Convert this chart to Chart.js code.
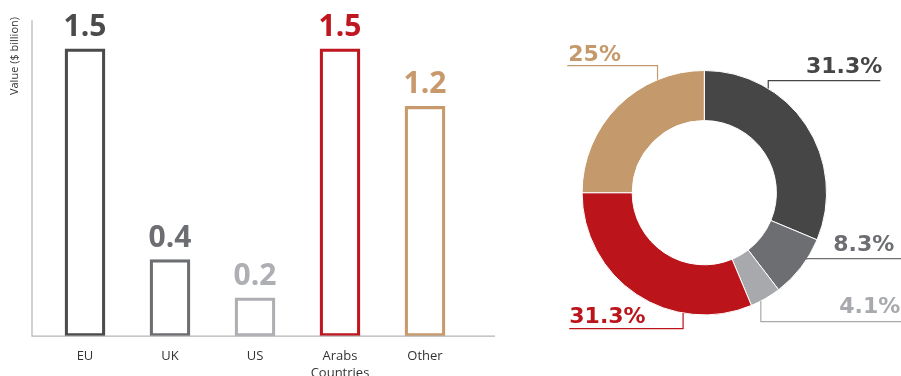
<!DOCTYPE html>
<html lang="en">
<head>
    <meta charset="UTF-8">
    <title>Value by region</title>
    <script src="https://cdn.jsdelivr.net/npm/chart.js"></script>
    <style>
        html, body { margin: 0; padding: 0; background: #fff; overflow: hidden; }
        body { width: 901px; height: 376px; position: relative; }
        #barChart { position: absolute; left: 0; top: 0; }
        #donutChart { position: absolute; left: 540px; top: 0; }
    </style>
</head>
<body>
    <canvas id="barChart" width="500" height="386"></canvas>
    <canvas id="donutChart" width="361" height="376"></canvas>

    <script>
        // Data
        const categories = ['EU', 'UK', 'US', ['Arabs', 'Countries'], 'Other'];
        const values = [1.5, 0.4, 0.2, 1.5, 1.2];
        const shares = [31.3, 8.3, 4.1, 31.3, 25];
        const shareLabels = ['31.3%', '8.3%', '4.1%', '31.3%', '25%'];
        const axisTitle = 'Value ($ billion)';

        // Colours
        const barColors = ['#4b4b4b', '#6d6e71', '#aeafb2', '#c0161f', '#c89a6b'];
        const sliceColors = ['#464646', '#6d6e71', '#a7a9ac', '#bb141b', '#c4996b'];

        // Leader line layout for the donut labels (px relative to centre)
        const leaders = [
            { frac: 0.28, lineDy: -112, endDx: 176, textDx: 178, align: 'right', lift: 8 },
            { frac: 0.35, lineDy: 66, endDx: 197, textDx: 190, align: 'right', lift: 8 },
            { frac: 0.67, lineDy: 129, endDx: 197, textDx: 196, align: 'right', lift: 9 },
            { frac: 0.29, lineDy: 136, endDx: -135, textDx: -135, align: 'left', lift: 6 },
            { frac: 0.75, lineDy: -127, endDx: -137, textDx: -136, align: 'left', lift: 5 }
        ];

        // Axis lines, title and value labels for the bar chart
        const barDecor = {
            id: 'barDecor',
            afterDatasetsDraw(chart) {
                const { ctx, chartArea } = chart;
                const axisX = chartArea.left - 10.5;
                ctx.save();
                ctx.strokeStyle = '#b5b5b5';
                ctx.lineWidth = 1.2;
                ctx.beginPath();
                ctx.moveTo(axisX, chartArea.top);
                ctx.lineTo(axisX, chartArea.bottom);
                ctx.lineTo(495, chartArea.bottom);
                ctx.stroke();

                ctx.translate(15, 17);
                ctx.rotate(-Math.PI / 2);
                ctx.fillStyle = '#333';
                ctx.font = '11px "Open Sans"';
                ctx.textAlign = 'right';
                ctx.textBaseline = 'middle';
                ctx.fillText(axisTitle, 0, 0);
                ctx.restore();

                ctx.save();
                ctx.font = 'bold 30px "Open Sans"';
                ctx.textAlign = 'center';
                ctx.textBaseline = 'alphabetic';
                chart.getDatasetMeta(0).data.forEach((bar, i) => {
                    ctx.fillStyle = barColors[i];
                    ctx.fillText(values[i].toFixed(1), bar.x, bar.y - 13);
                });
                ctx.restore();
            }
        };

        new Chart(document.getElementById('barChart'), {
            type: 'bar',
            data: {
                labels: categories,
                datasets: [{
                    data: values,
                    backgroundColor: 'rgba(0,0,0,0)',
                    borderColor: barColors,
                    borderWidth: 2.6,
                    borderSkipped: false,
                    barThickness: 40
                }]
            },
            options: {
                responsive: false,
                devicePixelRatio: 1,
                animation: false,
                layout: { padding: { left: 42.5, right: 32.5, top: 20, bottom: 0 } },
                plugins: { legend: { display: false }, tooltip: { enabled: false } },
                scales: {
                    y: { display: false, min: 0, max: 1.65 },
                    x: {
                        grid: { display: false },
                        border: { display: false },
                        ticks: {
                            color: '#333',
                            padding: 4,
                            maxRotation: 0,
                            font: { family: 'Open Sans', size: 13, lineHeight: 1.3 }
                        }
                    }
                }
            },
            plugins: [barDecor]
        });

        // Percentage labels with elbow leader lines
        const donutLabels = {
            id: 'donutLabels',
            afterDatasetsDraw(chart) {
                const { ctx } = chart;
                ctx.save();
                ctx.font = 'bold 22px "DejaVu Sans"';
                ctx.textBaseline = 'alphabetic';
                chart.getDatasetMeta(0).data.forEach((arc, i) => {
                    const L = leaders[i];
                    const a = arc.startAngle + L.frac * (arc.endAngle - arc.startAngle);
                    const ax = arc.x + arc.outerRadius * Math.cos(a);
                    const ay = arc.y + arc.outerRadius * Math.sin(a);
                    const ly = arc.y + L.lineDy;
                    ctx.strokeStyle = sliceColors[i];
                    ctx.lineWidth = 1.2;
                    ctx.beginPath();
                    ctx.moveTo(ax, ay);
                    ctx.lineTo(ax, ly);
                    ctx.lineTo(arc.x + L.endDx, ly);
                    ctx.stroke();
                    ctx.fillStyle = sliceColors[i];
                    ctx.textAlign = L.align;
                    ctx.fillText(shareLabels[i], arc.x + L.textDx, ly - L.lift);
                });
                ctx.restore();
            }
        };

        new Chart(document.getElementById('donutChart'), {
            type: 'doughnut',
            data: {
                labels: ['EU', 'UK', 'US', 'Arabs Countries', 'Other'],
                datasets: [{
                    data: shares,
                    backgroundColor: sliceColors,
                    borderColor: '#ffffff',
                    borderWidth: 1
                }]
            },
            options: {
                responsive: false,
                devicePixelRatio: 1,
                animation: false,
                cutout: '59%',
                layout: { padding: { left: 41.6, right: 74, top: 70, bottom: 60.6 } },
                plugins: { legend: { display: false }, tooltip: { enabled: false } }
            },
            plugins: [donutLabels]
        });
    </script>
</body>
</html>
